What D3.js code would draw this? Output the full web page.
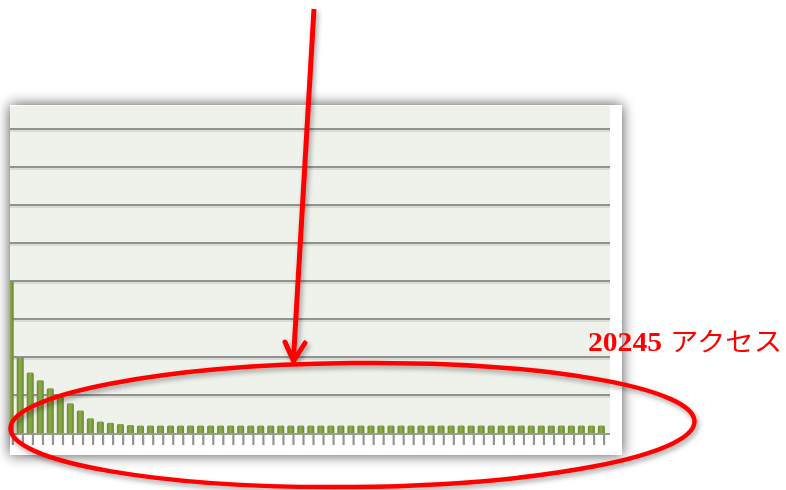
<!DOCTYPE html>
<html>
<head>
<meta charset="utf-8">
<script src="https://cdn.jsdelivr.net/npm/d3@7"></script>
<style>
  html, body { margin: 0; padding: 0; background: #ffffff; }
  svg { display: block; }
</style>
</head>
<body>
<svg id="chart" width="786" height="490"></svg>
<script>
// ---- data ----
const categories = d3.range(1, 61);
const values = [400, 200, 159, 139, 118, 96, 78, 59, 39, 30, 27, 24, 21,
  20, 20, 20, 20, 20, 20, 20, 20, 20, 20, 20, 20, 20, 20, 20, 20, 20,
  20, 20, 20, 20, 20, 20, 20, 20, 20, 20, 20, 20, 20, 20, 20, 20, 20,
  20, 20, 20, 20, 20, 20, 20, 20, 20, 20, 20, 20, 20];
const gridValues = [100, 200, 300, 400, 500, 600, 700, 800];
const annotationNumber = "20245";
const annotationWord = "アクセス";

const svg = d3.select("#chart");
const defs = svg.append("defs");

// panel shadow
const sh = defs.append("filter").attr("id", "panelShadow")
  .attr("x", "-10%").attr("y", "-20%").attr("width", "120%").attr("height", "140%");
sh.append("feDropShadow").attr("dx", 0).attr("dy", 0).attr("stdDeviation", 7)
  .attr("flood-color", "#000").attr("flood-opacity", 0.7);

const rs = defs.append("filter").attr("id", "redShadow")
  .attr("x", "-10%").attr("y", "-20%").attr("width", "120%").attr("height", "140%");
rs.append("feDropShadow").attr("dx", 2).attr("dy", 3).attr("stdDeviation", 2.5)
  .attr("flood-color", "#000").attr("flood-opacity", 0.35);

const grad = defs.append("linearGradient").attr("id", "barGrad")
  .attr("x1", "0%").attr("x2", "100%").attr("y1", "0%").attr("y2", "0%");
grad.append("stop").attr("offset", "0%").attr("stop-color", "#6a882f");
grad.append("stop").attr("offset", "45%").attr("stop-color", "#8dae4c");
grad.append("stop").attr("offset", "100%").attr("stop-color", "#6a882f");

defs.append("clipPath").attr("id", "plotClip")
  .append("rect").attr("x", 10).attr("y", 106).attr("width", 600).attr("height", 330);

// panel
svg.append("rect").attr("x", 10).attr("y", 105).attr("width", 612).attr("height", 350)
  .attr("fill", "#ffffff").attr("filter", "url(#panelShadow)");
svg.append("rect").attr("x", 10).attr("y", 106).attr("width", 600).attr("height", 329)
  .attr("fill", "#eff2eb");

// scales
const x = d3.scaleBand().domain(categories).range([6.7, 604.9]).paddingInner(0.3).paddingOuter(0);
const y = d3.scaleLinear().domain([0, 800]).range([433, 129]);

// gridlines
const g = svg.append("g");
g.selectAll("line.gl").data(gridValues).join("line")
  .attr("x1", 10).attr("x2", 610)
  .attr("y1", d => y(d) + 2).attr("y2", d => y(d) + 2)
  .attr("stroke", "#d2d4cf").attr("stroke-width", 1.5);
g.selectAll("line.gd").data(gridValues).join("line")
  .attr("x1", 10).attr("x2", 610)
  .attr("y1", d => y(d)).attr("y2", d => y(d))
  .attr("stroke", "#929292").attr("stroke-width", 2);

// bars
svg.append("g").attr("clip-path", "url(#plotClip)")
  .selectAll("path").data(values).join("path")
  .attr("d", (d, i) => {
    const x0 = x(categories[i]), w = x.bandwidth();
    const yt = y(d), yb = 435, r = 1.5;
    return `M${x0},${yb}V${yt + r}Q${x0},${yt} ${x0 + r},${yt}H${x0 + w - r}Q${x0 + w},${yt} ${x0 + w},${yt + r}V${yb}Z`;
  })
  .attr("fill", "url(#barGrad)");

// axis line and ticks
svg.append("line").attr("x1", 10).attr("x2", 610).attr("y1", 434).attr("y2", 434)
  .attr("stroke", "#9a9a9a").attr("stroke-width", 2);
const axis = svg.append("g")
  .attr("transform", `translate(${x.bandwidth() / 2 - 0.8},435)`)
  .call(d3.axisBottom(x).tickSize(10).tickSizeOuter(0).tickFormat(""));
axis.select(".domain").remove();
axis.selectAll(".tick line").attr("stroke", "#939393").attr("stroke-width", 2.2);

// red annotation
const ann = svg.append("g").attr("filter", "url(#redShadow)");
ann.append("ellipse").attr("cx", 352.5).attr("cy", 425).attr("rx", 342).attr("ry", 62)
  .attr("fill", "none").attr("stroke", "#ff0000").attr("stroke-width", 4.5)
  .attr("transform", "rotate(-0.6 352.5 425)");
ann.append("line").attr("x1", 314).attr("y1", 9).attr("x2", 293.5).attr("y2", 359)
  .attr("stroke", "#ff0000").attr("stroke-width", 5);
ann.append("path").attr("d", "M285,342 L293.5,361 L305,343")
  .attr("fill", "none").attr("stroke", "#ff0000").attr("stroke-width", 5)
  .attr("stroke-linejoin", "round").attr("stroke-linecap", "round");

const txt = svg.append("text").attr("y", 351).attr("fill", "#ff0000");
txt.append("tspan").attr("x", 588).attr("font-family", "Liberation Serif, serif")
  .attr("font-weight", "bold").attr("font-size", 27)
  .attr("textLength", 74).attr("lengthAdjust", "spacingAndGlyphs")
  .text(annotationNumber);
txt.append("tspan").attr("x", 670).attr("font-family", "Noto Sans CJK JP, sans-serif")
  .attr("font-weight", 400).attr("font-size", 26)
  .attr("textLength", 112).attr("lengthAdjust", "spacingAndGlyphs")
  .text(annotationWord);
</script>
</body>
</html>
